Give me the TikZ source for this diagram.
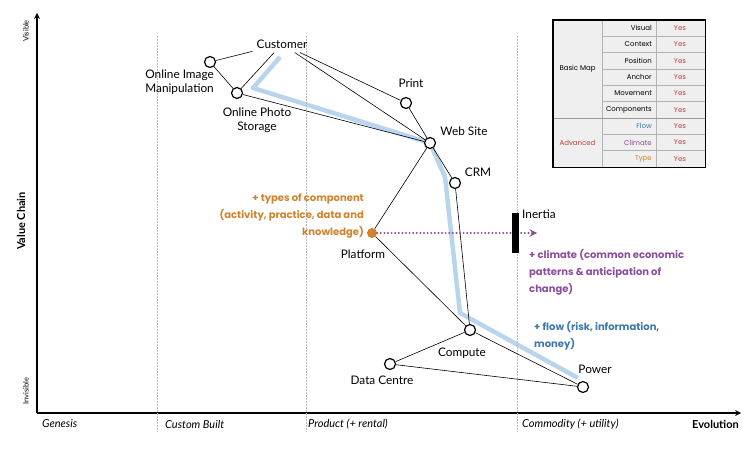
\documentclass[tikz,border=0pt]{standalone}
\usepackage{fontspec}
\setmainfont{Lato}
\newfontfamily\chalk{Poppins}
\usepackage{xcolor}
\usepackage{tikz}
\usetikzlibrary{arrows, positioning, backgrounds}
\definecolor{flowblue}{HTML}{B9D5EE}
\definecolor{textblue}{HTML}{3C78AE}
\definecolor{climpurple}{HTML}{8A4E9E}
\definecolor{typeorange}{HTML}{D0822C}
\definecolor{yesred}{HTML}{B5433B}
\definecolor{tablegray}{HTML}{EFEFEF}
\tikzstyle{comp} = [circle, draw=black, fill=white, line width=1.2pt, minimum size=11pt, inner sep=0pt]
\tikzstyle{lbl} = [font=\fontsize{11.8}{14.5}\selectfont, inner sep=0pt]
\tikzstyle{link} = [line width=0.6pt]
\tikzstyle{stage} = [font=\fontsize{11}{13}\selectfont\itshape, anchor=west, inner sep=0pt]
\tikzstyle{note} = [font=\chalk\bfseries\fontsize{10}{17}\selectfont, inner sep=0pt]
\tikzstyle{cell} = [font=\chalk\fontsize{7}{8}\selectfont, inner sep=0pt]
\tikzstyle{arrow} = [line width=1.6pt,->,>=stealth]

\begin{document}
\begin{tikzpicture}[x=1pt, y=-1pt]
\useasboundingbox (0,0) rectangle (746,454);
% axes
\coordinate (origin) at (37,413);
\coordinate (top) at (37,13);
\coordinate (right) at (741,413);
\draw [arrow] (origin) -- (top);
\draw [arrow] (origin) -- (right);
\foreach \x in {157,306,517}
  \draw [gray!55, densely dotted, line width=0.5pt] (\x,36) -- (\x,432);
\node (genesis) [stage] at (42,424) {Genesis};
\node (custom) [stage] at (165,424) {Custom Built};
\node (product) [stage] at (308,424) {Product (+ rental)};
\node (commodity) [stage] at (522,424) {Commodity (+ utility)};
\node (evo) [font=\bfseries\fontsize{11}{13}\selectfont, anchor=east, inner sep=0pt] at (739,424) {Evolution};
\node (vis) [rotate=90, font=\fontsize{7.5}{9}\selectfont, inner sep=0pt] at (26,31) {Visible};
\node (invis) [rotate=90, font=\fontsize{7.5}{9}\selectfont, inner sep=0pt] at (26,391) {Invisible};
\node (vchain) [rotate=90, font=\bfseries\fontsize{11}{13}\selectfont, inner sep=0pt] at (21,221) {Value Chain};

% components
\node (customer) [lbl, inner sep=4pt] at (282,44) {Customer};
\node (oim) [comp] at (210,62) {};
\node (ops) [comp] at (237,93) {};
\node (print) [comp] at (406,103) {};
\node (web) [comp] at (430,143) {};
\node (crm) [comp] at (455,183) {};
\node (platform) [circle, fill=typeorange, minimum size=10pt, inner sep=0pt] at (372,233) {};
\node (compute) [comp] at (470,330) {};
\node (dc) [comp] at (390,364) {};
\node (power) [comp] at (583,387) {};

\node (oimlbl) [lbl, anchor=east, align=right] at (214,82) {Online Image\\Manipulation};
\node (opslbl) [lbl, align=center] at (257,120) {Online Photo\\Storage};
\node (printlbl) [lbl] at (411,83) {Print};
\node (weblbl) [lbl] at (464,131) {Web Site};
\node (crmlbl) [lbl] at (478,172) {CRM};
\node (platlbl) [lbl] at (363,254) {Platform};
\node (complbl) [lbl] at (462,353) {Compute};
\node (dclbl) [lbl] at (382,380) {Data Centre};
\node (powerlbl) [lbl] at (595,369) {Power};

% flow
\coordinate (f1) at (280,57);
\coordinate (f2) at (253,88);
\coordinate (f3) at (445,177);
\coordinate (f4) at (460,313);
\coordinate (f5) at (578,378);
\begin{scope}[on background layer]
\draw [flowblue, line width=4.5pt, line join=round] (f1) -- (f2) -- (web.center) -- (f3) -- (f4) -- (f5);
\end{scope}

\draw [link] (customer) -- (oim);
\draw [link] (customer) -- (ops);
\draw [link] (customer) -- (print);
\draw [link] (customer) -- (web);
\draw [link] (oim) -- (ops);
\draw [link] (ops) -- (web);
\draw [link] (print) -- (web);
\draw [link] (web) -- (crm);
\draw [link] (web) -- (platform);
\draw [link] (crm) -- (compute);
\draw [link] (platform) -- (compute);
\draw [link] (compute) -- (dc);
\draw [link] (compute) -- (power);
\draw [link] (dc) -- (power);

% climate / inertia
\coordinate (climend) at (537,233);
\draw [arrow, climpurple, line width=2.2pt, line cap=round, dash pattern=on 0pt off 3.6pt] (platform) -- (climend);
\node (inertia) [fill=black, minimum width=7pt, minimum height=40pt, inner sep=0pt] at (515,233) {};
\node (inertialbl) [lbl, anchor=west] at (522,214) {Inertia};

\node (typenote) [note, text=typeorange, anchor=east, align=right] at (364,216) {+ types of component\\(activity, practice, data and\\knowledge)};
\node (climnote) [note, text=climpurple, anchor=west, align=left] at (529,272) {+ climate (common economic\\patterns \& anticipation of\\change)};
\node (flownote) [note, text=textblue, anchor=west, align=left] at (534,336) {+ flow (risk, information,\\money)};

% table
\node (table) [fill=tablegray, minimum width=152pt, minimum height=147pt, inner sep=0pt, anchor=north west] at (553,20) {};
\draw [gray!60, line width=0.6pt] (602,20) -- (602,167);
\draw [gray!60, line width=0.6pt] (656,20) -- (656,167);
\foreach \i in {1,...,8}
  \draw [gray!60, line width=0.6pt] (602,{20+\i*16.333}) -- (705,{20+\i*16.333});
\draw [gray!80, line width=0.8pt] (553,118) -- (705,118);
\foreach \name/\col [count=\i] in {Visual/black, Context/black, Position/black, Anchor/black, Movement/black, Components/black, Flow/textblue, Climate/climpurple, Type/typeorange} {
  \node (row\i) [cell, text=\col, anchor=east] at (652,{20+(\i-0.5)*16.333}) {\name};
  \node (yes\i) [cell, text=yesred] at (680,{20+(\i-0.5)*16.333}) {Yes};
}
\node (basic) [cell] at (577.5,69) {Basic Map};
\node (adv) [cell, text=yesred] at (577.5,142.5) {Advanced};
\draw [line width=1.6pt] (table.north west) rectangle (table.south east);
\end{tikzpicture}
\end{document}
